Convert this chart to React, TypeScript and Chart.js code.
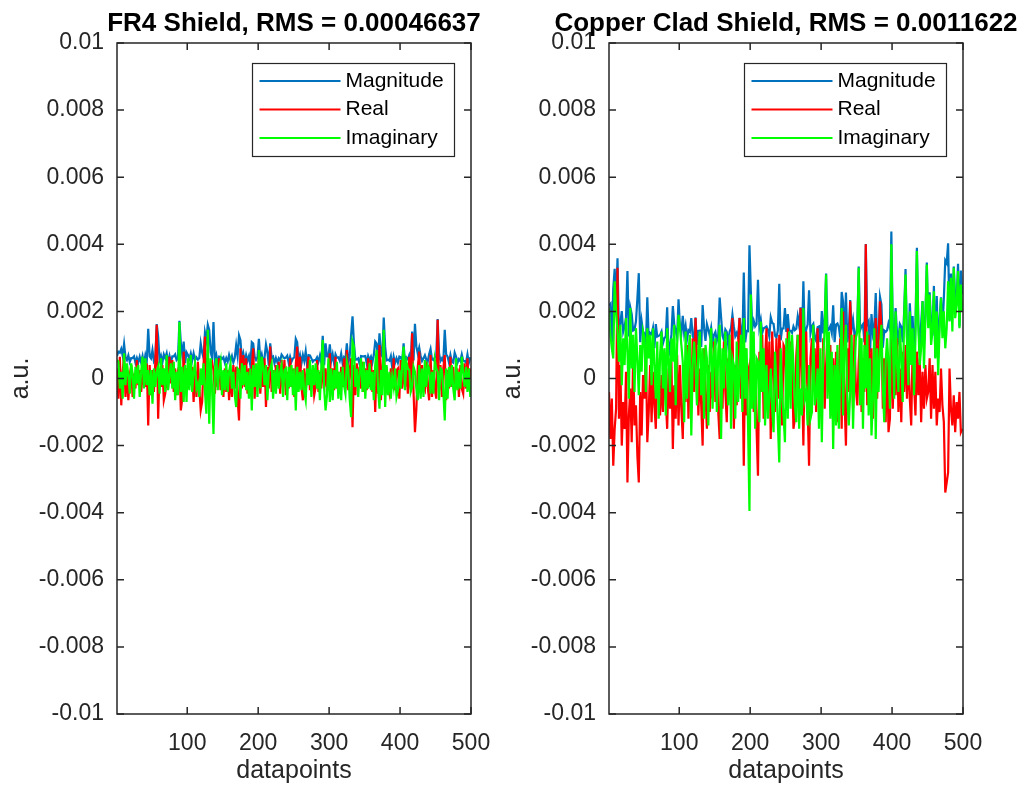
import React, { useEffect, useRef } from "react";
import { Chart, registerables } from "chart.js";

Chart.register(...registerables);

const FONT = '"Liberation Sans", Arial, Helvetica, sans-serif';
const AXIS_COLOR = "#262626";

// Samples are stored in units of 1e-5 a.u.; sample k sits at datapoint 2k+1.
const UNIT = 1e-5;

const X_TICKS = [100, 200, 300, 400, 500];
const Y_TICKS = [-0.01, -0.008, -0.006, -0.004, -0.002, 0, 0.002, 0.004, 0.006, 0.008, 0.01];
const SERIES_NAMES = ["Magnitude", "Real", "Imaginary"];
const SERIES_COLORS = ["#0072BD", "#FF0000", "#00FF00"];
const PANEL_TITLES = ["FR4 Shield, RMS = 0.00046637", "Copper Clad Shield, RMS = 0.0011622"];

// ---- FR4 shield ----
const fr4Real = [
  30, -60, 65, -80, 20, 70, -55, 25, -65, 10, 40, -55, 15, -30, 55, -20, 25, -40, 5, 30, -25, 45, -140, 40, -50,
  25, -40, 50, 160, -120, 30, -25, 40, -65, -45, 20, -30, 65, -15, 55, -40, 30, -50, 25, 40, -95, -60, 80, -20, 30,
  -30, 45, -20, 35, -70, 25, -55, 50, -25, -95, -70, 40, 125, -30, 60, -40, 45, 50, 25, -45, 30, -25, 60, -35, 20,
  -55, 30, -40, 25, -65, 20, -55, 40, -30, 35, -60, -125, 90, -30, 70, -25, 60, -45, 30, -20, 35, 90, -60, 25, -30,
  70, -45, 30, -25, 60, -85, 35, -30, 95, -40, 25, -35, 40, -20, 50, -45, 55, -25, 55, -50, 20, -30, 60, -25, 30,
  -55, 40, 95, -30, 65, -25, -65, 30, -40, 25, 65, -35, 20, 25, -50, -25, 55, -40, 20, -30, 55, -25, 30, -40, 25,
  75, -40, 30, -35, 65, -30, 20, -45, 35, -25, 60, -30, 85, -35, 25, 60, -145, 40, -50, 45, -25, 35, -30, 50, -40,
  30, -35, 60, -25, 55, -40, 25, -100, 60, -45, 100, -65, 40, 110, -30, 35, -25, -45, 30, -30, 60, -35, 25, 30, -60,
  55, -30, 40, -25, 30, -45, 65, -30, 135, -40, -160, -90, 35, 80, -30, 40, -25, -35, 50, -25, -65, 70, -55, 25, -30,
  -60, 175, -35, 40, -55, 30, 70, -65, 25, -30, 65, -25, 35, -40, -25, 30, -55, 40, -30, -45, 45, -30, 60, -35, 30,
];

const fr4Imaginary = [
  55, 50, -30, 20, -60, 75, -20, 45, 10, -45, 45, 15, -60, 35, -15, 40, -55, 20, 65, -30, 60, -20, 25, -50, 25,
  -75, 30, -25, 20, 35, -45, 60, -20, 30, -40, 70, -35, 10, 45, -30, 50, -65, 20, -50, 168, -40, 35, -70, 40, -70,
  60, -35, 70, -40, 20, 45, -30, -15, -55, 30, -20, 45, -40, -105, 145, -135, 60, -30, -165, 20, 60, -35, 25, 50, -50,
  25, -35, 45, -40, 20, 45, -30, 20, -50, -85, 30, 25, -60, 45, -20, 40, -35, 20, -60, 30, -95, 40, -25, 45, -55,
  85, -30, 65, 35, -20, 40, -65, 20, 30, 45, -60, 25, -45, 40, -30, 20, 40, -55, 25, 30, -65, 35, -25, 40, -50,
  30, -95, 35, -40, 20, -35, 25, -40, -65, 30, -20, 55, -55, 40, -20, 45, -30, 25, -65, 35, 115, -30, -95, -50, 60,
  -70, 30, -65, 25, -30, 50, -60, 20, -65, 35, -20, -45, 50, 30, -60, -115, 110, 95, -25, 30, -55, 20, 60, -40, 50,
  -60, 25, -30, 45, -35, 20, -65, 40, 85, -30, -90, 25, -50, 145, -85, 40, -50, 20, -60, 5, -25, 30, -55, -35, 25,
  -30, 40, 95, -35, 50, 30, 25, -40, -25, 35, 20, -30, -65, 40, -60, 30, -55, 55, -25, 40, 30, -45, 20, -45, 55,
  30, 20, -65, 30, 25, -40, -125, 30, -60, 35, -25, 40, -30, -65, 60, -35, 20, -30, 65, 20, -25, 35, -40, 30, -55,
];

const fr4Magnitude = [
  67, 80, 77, 88, 68, 103, 63, 55, 69, 49, 61, 61, 66, 47, 61, 48, 65, 48, 67, 42, 70, 53, 148, 66, 60,
  85, 52, 60, 162, 126, 55, 68, 48, 72, 61, 75, 47, 67, 48, 66, 66, 72, 55, 60, 172, 105, 70, 110, 46, 78,
  70, 59, 75, 54, 75, 55, 63, 56, 61, 105, 78, 61, 137, 115, 160, 145, 78, 62, 168, 53, 70, 45, 65, 64, 58,
  63, 47, 61, 50, 70, 53, 67, 48, 62, 99, 67, 128, 114, 57, 75, 50, 70, 53, 67, 38, 108, 104, 65, 55, 63,
  118, 57, 72, 45, 63, 101, 79, 38, 105, 61, 65, 45, 61, 48, 60, 53, 71, 65, 60, 62, 68, 47, 65, 50, 60,
  63, 118, 108, 52, 70, 45, 70, 52, 81, 40, 70, 69, 60, 50, 55, 55, 63, 50, 68, 47, 127, 40, 105, 66, 65,
  102, 52, 72, 45, 72, 62, 63, 53, 74, 45, 63, 57, 105, 47, 65, 130, 185, 105, 56, 57, 60, 43, 67, 66, 66,
  67, 45, 67, 55, 65, 48, 70, 110, 104, 57, 135, 72, 66, 182, 95, 54, 56, 53, 67, 32, 65, 47, 60, 47, 65,
  63, 52, 105, 45, 62, 57, 70, 52, 140, 54, 163, 95, 74, 92, 67, 52, 60, 69, 56, 50, 72, 88, 58, 55, 63,
  67, 177, 74, 52, 60, 52, 145, 72, 65, 47, 70, 50, 47, 77, 65, 47, 58, 52, 72, 53, 52, 47, 72, 47, 63,
];

// ---- Copper clad shield ----
const cuReal = [
  -40, -180, -60, -260, -150, -90, 330, -120, 40, -200, -70, -150, 20, -310, -110, -30, -190, 60, -140, -80, -230, -310, -40, -170, 10,
  -60, 90, -190, -100, 40, -130, 20, -80, -150, 60, -40, -110, 10, -100, 80, -60, -150, 30, -90, 50, -210, -20, -120, 70, -140,
  40, -90, -180, 30, -70, 100, -120, 50, -60, 120, -40, 180, 60, -110, 30, -80, -200, 90, -50, -150, 40, -100, 20, -60, 110,
  -70, 50, -100, -180, 30, -90, 110, -40, -130, 60, -50, 20, 180, -150, 40, -80, 100, 180, -60, 30, -260, 90, -110, 20, 40,
  -60, 120, -100, 40, -150, -290, 80, -40, 130, -120, 60, 150, -80, 110, -180, 140, 30, -100, 120, -60, 130, 70, -140, 100, 90,
  -70, 150, -30, 110, 40, -150, -120, 70, 130, -50, 210, 20, -200, 100, 140, -80, -260, 60, 120, -30, 90, -100, 150, 40, -60,
  -60, 120, -90, 40, 130, -40, 100, -110, 60, -100, 80, -130, 30, 120, -150, 200, -60, -200, 90, -40, 230, 70, -90, 130, -30,
  -80, 50, 120, -100, 60, -40, 400, -80, 130, -50, 90, -120, 40, 180, -60, 110, 230, 150, -90, 60, -130, 80, -160, -120, 180,
  -90, 60, -50, 120, -100, 30, -130, 80, -40, 100, -60, 70, -60, -140, 90, -20, -110, 80, -50, 60, -130, 20, -90, 40, -60,
  -40, 60, -120, 40, -90, 20, -140, -60, -100, 30, -80, -130, -340, -310, -280, 30, -90, -140, -50, -160, -70, -120, -40, -160, -150,
];

const cuImaginary = [
  210, 130, 90, 60, 290, 200, 140, 50, 160, -20, 120, 40, 180, 80, -60, 210, 30, 130, -40, 150, 60, -50, 100, 20, 140,
  120, -40, 150, 60, 130, -20, 150, 40, -60, 110, -120, 70, 140, -30, 90, -110, 150, 60, -40, 120, 50, 160, -80, 100, 190,
  150, 100, 50, -130, 140, -60, 80, 130, -170, 40, 110, 30, -80, 90, 140, -50, 90, -120, 100, 60, -140, 80, 150, -90, 70,
  120, -100, 80, 160, -180, 90, -30, 140, 50, -80, 130, -150, 60, 40, -120, 110, -70, 20, 130, -100, 180, -60, 90, -140, -395,
  250, -90, 140, -150, 60, 50, -130, 170, -40, 90, -140, 40, -120, -60, 30, -90, -160, 80, -20, -130, -250, 90, -50, -110, -190,
  120, -120, 140, -90, 130, 40, -80, -130, 130, -150, -30, -110, 210, -60, -40, -140, 40, -120, -100, 160, -80, -50, 30, -150, 90,
  -190, 60, 150, 310, -60, 140, -120, 80, -210, 40, -140, 100, -150, 20, 210, -110, 90, 160, -60, -140, -40, 130, -150, 20, 120,
  140, 330, -80, 120, -150, 100, -30, 140, -110, 60, -170, -60, 150, -180, 90, -40, 80, 160, -20, -130, 50, 120, 40, -90, 400,
  120, -60, 200, 40, -40, 150, 60, -70, 180, 310, 100, -20, 200, 40, 150, -50, 120, 380, 160, 40, 90, 230, 30, 180, 340,
  150, 250, 100, 140, 260, 60, 200, 10, 150, 240, 120, 200, 90, 150, 290, 170, 300, 140, 330, 180, 220, 320, 150, 280, 200,
];

const cuMagnitude = [
  216, 222, 108, 267, 327, 219, 358, 130, 165, 201, 139, 155, 181, 320, 125, 212, 192, 143, 146, 170, 238, 314, 108, 171, 140,
  134, 98, 242, 117, 136, 132, 151, 90, 162, 125, 127, 130, 140, 104, 120, 125, 212, 67, 98, 130, 216, 161, 144, 122, 236,
  155, 135, 187, 133, 157, 117, 144, 139, 180, 126, 117, 182, 100, 142, 143, 94, 219, 150, 112, 162, 146, 128, 151, 108, 130,
  139, 112, 128, 241, 182, 127, 114, 146, 139, 100, 139, 151, 190, 155, 126, 136, 122, 181, 143, 104, 316, 108, 142, 141, 397,
  257, 150, 172, 155, 162, 294, 153, 175, 136, 150, 152, 155, 144, 125, 182, 166, 163, 128, 122, 143, 282, 114, 149, 149, 210,
  139, 192, 143, 142, 136, 155, 144, 148, 184, 158, 212, 112, 290, 117, 146, 161, 263, 134, 156, 163, 120, 112, 153, 155, 108,
  201, 134, 175, 313, 143, 146, 156, 136, 218, 108, 161, 164, 153, 122, 258, 228, 108, 256, 108, 146, 234, 148, 175, 131, 124,
  161, 334, 144, 156, 162, 108, 401, 161, 170, 78, 192, 134, 155, 255, 108, 117, 243, 220, 92, 143, 139, 144, 165, 150, 438,
  156, 85, 210, 136, 116, 162, 154, 108, 196, 326, 124, 78, 224, 146, 186, 58, 164, 390, 172, 76, 164, 231, 102, 186, 346,
  156, 257, 160, 146, 276, 63, 246, 61, 180, 242, 144, 239, 352, 344, 403, 173, 313, 198, 334, 241, 231, 342, 155, 322, 250,
];

// Boxed axes with inward ticks on all four sides, the panel title and an inset legend.
const matlabFrame = {
  id: "matlabFrame",
  afterDatasetsDraw(chart: any, _args: any, opts: any) {
    const { ctx, chartArea: a, scales } = chart;
    ctx.save();

    ctx.strokeStyle = AXIS_COLOR;
    ctx.lineWidth = 1.5;
    ctx.strokeRect(a.left, a.top, a.right - a.left, a.bottom - a.top);
    const len = 7;
    ctx.beginPath();
    X_TICKS.forEach((v) => {
      const px = scales.x.getPixelForValue(v);
      ctx.moveTo(px, a.bottom);
      ctx.lineTo(px, a.bottom - len);
      ctx.moveTo(px, a.top);
      ctx.lineTo(px, a.top + len);
    });
    Y_TICKS.forEach((v) => {
      const py = scales.y.getPixelForValue(v);
      ctx.moveTo(a.left, py);
      ctx.lineTo(a.left + len, py);
      ctx.moveTo(a.right, py);
      ctx.lineTo(a.right - len, py);
    });
    ctx.stroke();

    ctx.fillStyle = "#000";
    ctx.font = `bold 26px ${FONT}`;
    ctx.textAlign = "center";
    ctx.textBaseline = "alphabetic";
    ctx.fillText(opts.title, (a.left + a.right) / 2, 31);

    const w = 202;
    const h = 93;
    const x0 = a.right - 16.5 - w;
    const y0 = a.top + 20.5;
    ctx.fillStyle = "#fff";
    ctx.fillRect(x0, y0, w, h);
    ctx.strokeStyle = AXIS_COLOR;
    ctx.lineWidth = 1.2;
    ctx.strokeRect(x0, y0, w, h);
    ctx.font = `21px ${FONT}`;
    ctx.textAlign = "left";
    ctx.textBaseline = "middle";
    chart.data.datasets.forEach((ds: any, k: number) => {
      const cy = y0 + 17.5 + k * 28.5;
      ctx.strokeStyle = ds.borderColor;
      ctx.lineWidth = 2;
      ctx.beginPath();
      ctx.moveTo(x0 + 7, cy);
      ctx.lineTo(x0 + 88, cy);
      ctx.stroke();
      ctx.fillStyle = "#000";
      ctx.fillText(ds.label, x0 + 93, cy);
    });

    ctx.restore();
  },
};

function formatTick(v: any) {
  return String(parseFloat(Number(v).toFixed(4)));
}

function ShieldPanel(props: any) {
  const { title, magnitude, real, imaginary, padLeft, padRight } = props;
  const ref = useRef<HTMLCanvasElement | null>(null);

  useEffect(() => {
    const series = [magnitude, real, imaginary];
    const chart = new Chart(ref.current as HTMLCanvasElement, {
      type: "line",
      data: {
        datasets: series.map((values: number[], k: number) => ({
          label: SERIES_NAMES[k],
          data: values.map((v, i) => ({ x: 2 * i + 1, y: v * UNIT })),
          borderColor: SERIES_COLORS[k],
          backgroundColor: SERIES_COLORS[k],
          borderWidth: 2.2,
          pointRadius: 0,
          tension: 0,
          fill: false,
          order: series.length - 1 - k,
        })),
      },
      options: {
        animation: false,
        responsive: false,
        devicePixelRatio: 1,
        events: [],
        layout: { padding: { left: padLeft, right: padRight, top: 43, bottom: 0 } },
        plugins: {
          legend: { display: false },
          tooltip: { enabled: false },
          title: { display: false },
          matlabFrame: { title },
        } as any,
        scales: {
          x: {
            type: "linear",
            min: 1,
            max: 500,
            grid: { display: false, drawTicks: false, tickLength: 0 },
            border: { display: false },
            afterBuildTicks: (s: any) => {
              s.ticks = X_TICKS.map((value) => ({ value }));
            },
            afterFit: (s: any) => {
              s.height = 78;
            },
            ticks: {
              autoSkip: false,
              maxRotation: 0,
              color: AXIS_COLOR,
              font: { family: FONT, size: 23 },
              padding: 16,
              callback: (v: any) => String(v),
            },
            title: {
              display: true,
              text: "datapoints",
              color: AXIS_COLOR,
              font: { family: FONT, size: 25 },
              padding: { top: 0, bottom: 6 },
            },
          },
          y: {
            type: "linear",
            min: -0.01,
            max: 0.01,
            grid: { display: false, drawTicks: false, tickLength: 0 },
            border: { display: false },
            afterBuildTicks: (s: any) => {
              s.ticks = Y_TICKS.map((value) => ({ value }));
            },
            afterFit: (s: any) => {
              s.width = 117;
            },
            ticks: {
              autoSkip: false,
              color: AXIS_COLOR,
              font: { family: FONT, size: 23 },
              padding: 13,
              callback: formatTick,
            },
            title: {
              display: true,
              text: "a.u.",
              color: AXIS_COLOR,
              font: { family: FONT, size: 25 },
              padding: { top: 6, bottom: 0 },
            },
          },
        },
      } as any,
      plugins: [matlabFrame],
    });
    return () => chart.destroy();
  }, []);

  return (
    <canvas
      ref={ref}
      width={1024}
      height={792}
      style={{ position: "absolute", left: 0, top: 0, width: 1024, height: 792 }}
    />
  );
}

export default function App() {
  return (
    <div
      style={{
        position: "fixed",
        left: 0,
        top: 0,
        width: 1024,
        height: 792,
        background: "#fff",
        overflow: "hidden",
      }}
    >
      <ShieldPanel
        title={PANEL_TITLES[0]}
        magnitude={fr4Magnitude}
        real={fr4Real}
        imaginary={fr4Imaginary}
        padLeft={0}
        padRight={553}
      />
      <ShieldPanel
        title={PANEL_TITLES[1]}
        magnitude={cuMagnitude}
        real={cuReal}
        imaginary={cuImaginary}
        padLeft={492}
        padRight={61}
      />
    </div>
  );
}
